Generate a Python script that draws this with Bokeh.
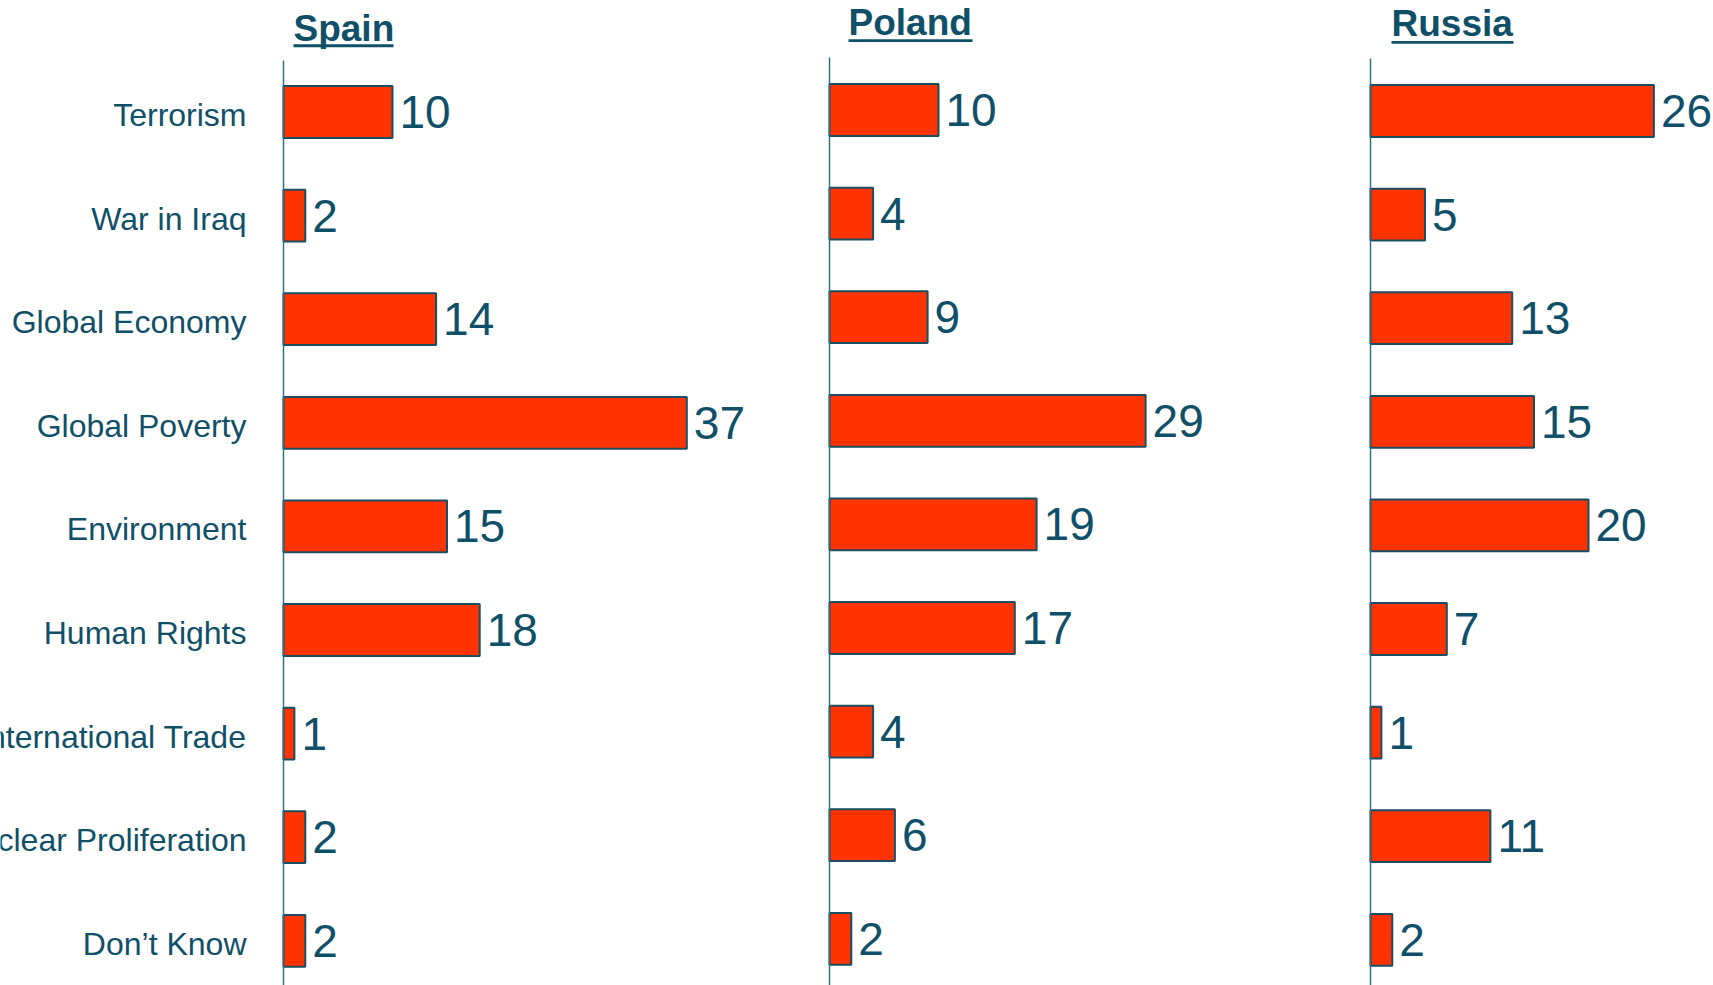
from bokeh.plotting import figure
from bokeh.layouts import row
from bokeh.models import Range1d, Label, BoxAnnotation, ColumnDataSource
from bokeh.core.properties import value
from bokeh.embed import file_html
from bokeh.resources import INLINE

categories = ["Terrorism", "War in Iraq", "Global Economy", "Global Poverty",
              "Environment", "Human Rights", "International Trade",
              "Nuclear Proliferation", "Don\u2019t Know"]
countries = ["Spain", "Poland", "Russia"]
spain = [10, 2, 14, 37, 15, 18, 1, 2, 2]
poland = [10, 4, 9, 29, 19, 17, 4, 6, 2]
russia = [26, 5, 13, 15, 20, 7, 1, 11, 2]

TEAL = "#0F5068"
BAR = "#FF3300"
EDGE = "#1B4E62"
PX = 10.9      # pixels per unit (x)
ROW = 103.6    # pixels per row (y)
H = 985
TITLE_SHIFT = 14  # label anchor correction (px)

# width, x-origin px, first-row centre px, axis top px,
# title left px (from axis), title baseline px, underline top/bottom px, underline width
layout_specs = [
    (823, 283, 111.5, 60.0, 10, 41.7, 43.7, 46.7, 100),
    (541, 6, 109.5, 57.0, 19, 36.0, 38.7, 41.5, 124),
    (349, 6, 110.5, 58.0, 21, 37.3, 40.5, 43.3, 122),
]
values_by_country = [spain, poland, russia]

figs = []
for k, name in enumerate(countries):
    vals = values_by_country[k]
    W, x0, r0, atop, tdx, tbase, ult, ulb, ulw = layout_specs[k]
    p = figure(width=W, height=H, output_backend="svg", toolbar_location=None,
               x_range=Range1d(-x0 / PX, (W - x0) / PX),
               y_range=Range1d((H - r0) / ROW, -r0 / ROW),
               min_border_left=0, min_border_right=0, min_border_top=0,
               min_border_bottom=0)
    p.xaxis.visible = False
    p.yaxis.visible = False
    p.grid.visible = False
    p.outline_line_color = None
    p.background_fill_color = "white"
    p.border_fill_color = "white"

    rows = list(range(len(categories)))
    src = ColumnDataSource(dict(y=rows, v=vals, lab=[str(v) for v in vals],
                                cat=categories, zero=[0] * len(vals)))
    p.hbar(y="y", left=0, right="v", height=0.5, source=src,
           fill_color=BAR, line_color=EDGE, line_width=2)
    p.text(x="v", y="y", text="lab", source=src, x_offset=7,
           text_align="left", text_baseline="middle",
           text_font=value("Liberation Sans"),
           text_font_size="46px", text_color=TEAL)
    if k == 0:
        p.text(x="zero", y="y", text="cat", source=src, x_offset=-37, y_offset=3,
               text_align="right", text_baseline="middle",
               text_font=value("Liberation Sans"), text_font_size="32px",
               text_color=TEAL)

    # vertical axis line, starting half a row above the first bar
    p.add_layout(BoxAnnotation(left=-0.7 / PX, right=0.7 / PX,
                               top=(atop - r0) / ROW,
                               fill_color="#2A6A80", fill_alpha=1.0,
                               line_color=None))
    # underlined panel title
    p.add_layout(Label(x=0, y=(tbase - TITLE_SHIFT - r0) / ROW, x_offset=tdx,
                       text=name,
                       text_baseline="alphabetic", text_align="left",
                       text_font="Liberation Sans", text_font_style="bold",
                       text_font_size="37px", text_color=TEAL))
    p.add_layout(BoxAnnotation(left=tdx / PX, right=(tdx + ulw) / PX,
                               top=(ult - r0) / ROW, bottom=(ulb - r0) / ROW,
                               fill_color=TEAL, fill_alpha=1.0, line_color=None))
    figs.append(p)

layout = row(*figs, spacing=0)
open("out.html", "w").write(file_html(layout, INLINE))
